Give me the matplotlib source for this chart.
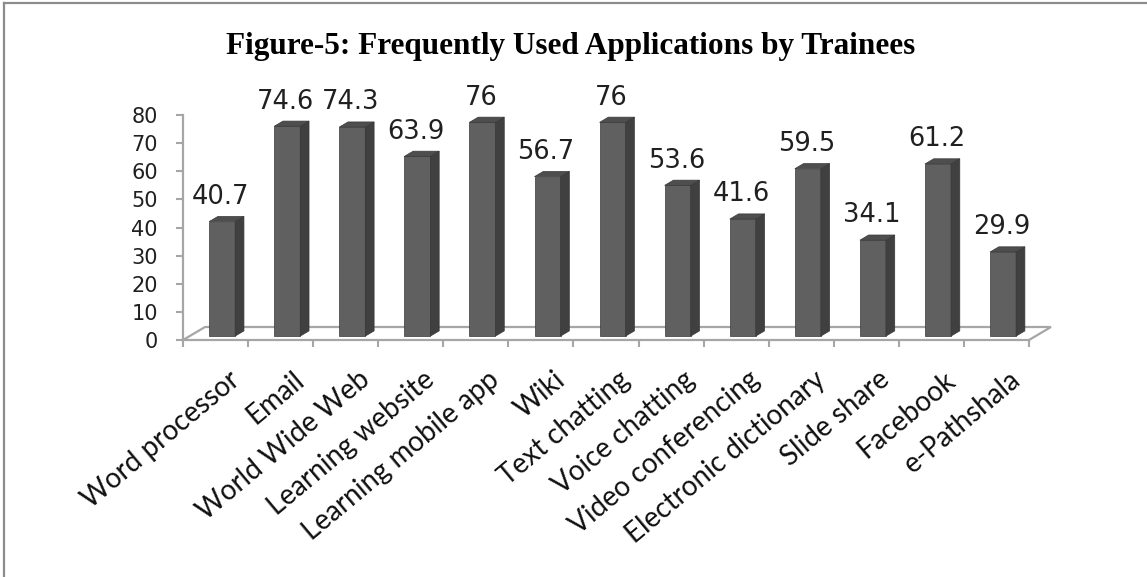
import numpy as np
import matplotlib
matplotlib.use("Agg")
import matplotlib.pyplot as plt
from matplotlib.patches import Polygon, Rectangle
from matplotlib.lines import Line2D
from matplotlib.transforms import ScaledTranslation

# Applications and share of trainees using them (%)
apps = ['Word processor', 'Email', 'World Wide Web', 'Learning website',
        'Learning mobile app', 'Wiki', 'Text chatting', 'Voice chatting',
        'Video conferencing', 'Electronic dictionary', 'Slide share',
        'Facebook', 'e-Pathshala']
usage = [40.7, 74.6, 74.3, 63.9, 76, 56.7, 76, 53.6, 41.6, 59.5, 34.1, 61.2, 29.9]
yticks = [0, 10, 20, 30, 40, 50, 60, 70, 80]

W, H = 1147, 577
fig = plt.figure(figsize=(W / 100, H / 100), dpi=100)
ax = fig.add_axes([183 / W, 1 - 340 / H, 846 / W, 225 / H])
n = len(apps)
ax.set_xlim(0, n)
ax.set_ylim(0, 80)

grey = '#a6a6a6'
for s in ['top', 'right']:
    ax.spines[s].set_visible(False)
for s in ['left', 'bottom']:
    ax.spines[s].set_color(grey)
    ax.spines[s].set_linewidth(1.6)

# depth of the floor, in data units
dxd, dyd = 0.338, 4.62
ax.plot([0, dxd, n + dxd, n], [0, dyd, dyd, 0], color=grey, lw=1.6,
        clip_on=False, zorder=1, solid_joinstyle='miter')

# 3-D looking columns
bw = 0.40
f0, f1 = 0.3, 0.7
ddx, ddy = (f1 - f0) * dxd, (f1 - f0) * dyd
for i, v in enumerate(usage):
    x0 = i + 0.5 - bw / 2 + f0 * dxd
    y0 = f0 * dyd
    ec = '#383838'
    # front, side and top faces
    ax.add_patch(Rectangle((x0, y0), bw, v, facecolor='#606060',
                           edgecolor=ec, lw=0.5, zorder=3, clip_on=False))
    ax.add_patch(Polygon([(x0 + bw, y0), (x0 + bw + ddx, y0 + ddy),
                          (x0 + bw + ddx, y0 + v + ddy), (x0 + bw, y0 + v)],
                         closed=True, facecolor='#404040', edgecolor=ec,
                         lw=0.5, zorder=3, clip_on=False))
    ax.add_patch(Polygon([(x0, y0 + v), (x0 + bw, y0 + v),
                          (x0 + bw + ddx, y0 + v + ddy), (x0 + ddx, y0 + v + ddy)],
                         closed=True, facecolor='#4e4e4e', edgecolor=ec,
                         lw=0.5, zorder=3, clip_on=False))
    ax.annotate(f'{v:g}', xy=(x0 + bw / 2, y0 + v + ddy), xytext=(-1, 9),
                textcoords='offset points', ha='center', va='baseline',
                fontsize=18.5, color='#202020', family='DejaVu Sans',
                annotation_clip=False)

# value axis
ax.set_yticks(yticks)
ax.set_yticklabels([str(t) for t in yticks], fontsize=15, color='#202020')
ax.tick_params(axis='y', direction='out', length=5, width=1.5, color=grey, pad=13)

# category axis: marks on boundaries, names at centres
ax.set_xticks(np.arange(n + 1), minor=True)
ax.tick_params(axis='x', which='minor', direction='out', length=5, width=1.5, color=grey)
ax.set_xticks(np.arange(n) + 0.5)
ax.set_xticklabels(apps, rotation=40, ha='right', rotation_mode='anchor',
                   fontsize=20, family='Lato', color='#101010')
ax.tick_params(axis='x', which='major', length=0, pad=19)
shift = ScaledTranslation(12 / 100, 0, fig.dpi_scale_trans)
for lab in ax.get_xticklabels():
    lab.set_transform(lab.get_transform() + shift)

fig.text(571 / W, 1 - 54 / H, 'Figure-5: Frequently Used Applications by Trainees',
         ha='center', va='baseline', fontsize=22.5, fontweight='bold',
         family='Liberation Serif', color='black')

# chart frame on top and left
fig.add_artist(Line2D([4 / W, 1], [1 - 3 / H, 1 - 3 / H], color='#8c8c8c', lw=1.6))
fig.add_artist(Line2D([4 / W, 4 / W], [0, 1 - 3 / H], color='#8c8c8c', lw=1.6))

fig.savefig('out.png', dpi=100, facecolor='white')
